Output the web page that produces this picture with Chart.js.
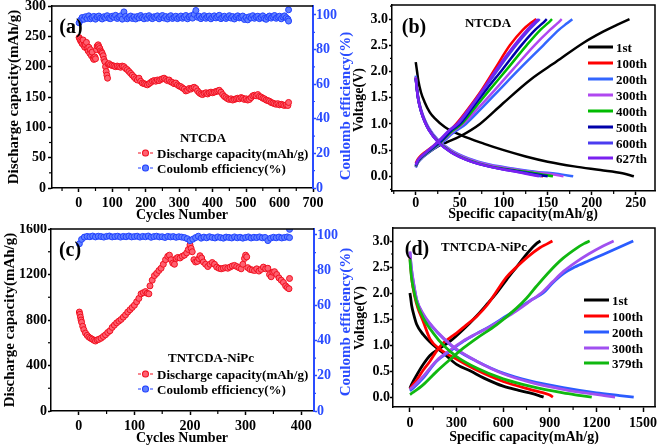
<!DOCTYPE html>
<html>
<head>
<meta charset="utf-8">
<script src="https://cdn.jsdelivr.net/npm/chart.js@4.4.1/dist/chart.umd.min.js"></script>
<style>
body{margin:0;background:#fff;}
#wrap{position:relative;width:661px;height:447px;overflow:hidden;font-family:'Liberation Serif','Times New Roman',serif;font-weight:bold;color:#000;background:#fff}
canvas{position:absolute}
.t{position:absolute;white-space:nowrap;transform:translate(-50%,-50%);line-height:1;z-index:5}
.v{transform:translate(-50%,-50%) rotate(-90deg)}
.lg{position:absolute;white-space:nowrap;transform:translateY(-50%);display:flex;align-items:center;font-size:13px;line-height:1;z-index:5}
.ln{display:inline-block;width:25px;height:3px;margin-right:3px}
.mk{display:inline-flex;align-items:center;width:15px;margin-right:4px}
.mk i{display:inline-block;width:4px;height:1px;background:var(--c)}
.mk b{display:inline-block;width:5px;height:5px;border:1px solid var(--c);background:var(--f);border-radius:50%;margin:0 1px}
</style>
</head>
<body>
<div id="wrap">
<canvas id="ca" width="352" height="224" style="left:0;top:0"></canvas>
<canvas id="cb" width="309" height="224" style="left:352px;top:0"></canvas>
<canvas id="cc" width="352" height="223" style="left:0;top:224px"></canvas>
<canvas id="cd" width="309" height="223" style="left:352px;top:224px"></canvas>

<!-- panel a texts -->
<div class="t v" style="left:13px;top:97px;font-size:15px">Discharge capacity(mAh/g)</div>
<div class="t" style="left:182px;top:215px;font-size:14px">Cycles Number</div>
<div class="t v" style="left:345px;top:106px;font-size:15px;color:#2a4cff">Coulomb efficiency(%)</div>
<div class="t" style="left:71px;top:26px;font-size:20px">(a)</div>
<div class="t" style="left:203px;top:137px;font-size:13px">NTCDA</div>
<div class="lg" style="left:138px;top:153px"><span class="mk" style="--c:#f01020;--f:#ff6070"><i></i><b></b><i></i></span>Discharge capacity(mAh/g)</div>
<div class="lg" style="left:138px;top:168px"><span class="mk" style="--c:#2040ff;--f:#6080ff"><i></i><b></b><i></i></span>Coulomb efficiency(%)</div>

<!-- panel b texts -->
<div class="t v" style="left:359px;top:100px;font-size:14px">Voltage(V)</div>
<div class="t" style="left:523px;top:214px;font-size:14px">Specific capacity(mAh/g)</div>
<div class="t" style="left:414px;top:26px;font-size:20px">(b)</div>
<div class="t" style="left:488px;top:22px;font-size:13px">NTCDA</div>
<div class="lg" style="left:588px;top:47px"><span class="ln" style="background:#000000"></span>1st</div>
<div class="lg" style="left:588px;top:63px"><span class="ln" style="background:#ff0000"></span>100th</div>
<div class="lg" style="left:588px;top:79px"><span class="ln" style="background:#3366ff"></span>200th</div>
<div class="lg" style="left:588px;top:95px"><span class="ln" style="background:#b048f0"></span>300th</div>
<div class="lg" style="left:588px;top:111px"><span class="ln" style="background:#00bb00"></span>400th</div>
<div class="lg" style="left:588px;top:127px"><span class="ln" style="background:#0000aa"></span>500th</div>
<div class="lg" style="left:588px;top:143px"><span class="ln" style="background:#4b3cf0"></span>600th</div>
<div class="lg" style="left:588px;top:158px"><span class="ln" style="background:#7a20f0"></span>627th</div>

<!-- panel c texts -->
<div class="t v" style="left:9px;top:320px;font-size:15px">Discharge capacity(mAh/g)</div>
<div class="t" style="left:182px;top:438px;font-size:14px">Cycles Number</div>
<div class="t v" style="left:345px;top:322px;font-size:15px;color:#2a4cff">Coulomb efficiency(%)</div>
<div class="t" style="left:70px;top:249px;font-size:20px">(c)</div>
<div class="t" style="left:211px;top:357px;font-size:13px">TNTCDA-NiPc</div>
<div class="lg" style="left:138px;top:374px"><span class="mk" style="--c:#f01020;--f:#ff6070"><i></i><b></b><i></i></span>Discharge capacity(mAh/g)</div>
<div class="lg" style="left:138px;top:389px"><span class="mk" style="--c:#2040ff;--f:#6080ff"><i></i><b></b><i></i></span>Coulomb efficiency(%)</div>

<!-- panel d texts -->
<div class="t v" style="left:360px;top:318px;font-size:14px">Voltage(V)</div>
<div class="t" style="left:524px;top:437px;font-size:14px">Specific capacity(mAh/g)</div>
<div class="t" style="left:417px;top:248px;font-size:20px">(d)</div>
<div class="t" style="left:484px;top:246px;font-size:13px">TNTCDA-NiPc</div>
<div class="lg" style="left:584px;top:300px"><span class="ln" style="background:#000000"></span>1st</div>
<div class="lg" style="left:584px;top:316px"><span class="ln" style="background:#ff0000"></span>100th</div>
<div class="lg" style="left:584px;top:332px"><span class="ln" style="background:#2a5cff"></span>200th</div>
<div class="lg" style="left:584px;top:348px"><span class="ln" style="background:#a050f0"></span>300th</div>
<div class="lg" style="left:584px;top:363px"><span class="ln" style="background:#10b810"></span>379th</div>
</div>

<script>
// ---------------- DATA ----------------
// Panel (a) NTCDA cycling
const aCapCycles = [1,3,5,8,10,13,15,18,20,23,25,28,30,33,35,38,40,43,45,48,50,53,55,58,60,63,65,68,70,73,75,78,80,82,84,86,88,90,95,100,105,110,115,120,125,130,135,140,145,150,155,160,165,170,175,180,185,190,195,200,205,210,215,220,225,230,235,240,245,250,255,260,265,270,275,280,285,290,295,300,305,310,315,320,325,330,335,340,345,350,355,360,365,370,375,380,385,390,395,400,405,410,415,420,425,430,435,440,445,450,455,460,465,470,475,480,485,490,495,500,505,510,515,520,525,530,535,540,545,550,555,560,565,570,575,580,585,590,595,600,605,610,615,620,625,627];
const aCap = [248,246,243,241,238,244,235,232,236,240,230,226,232,222,228,218,224,214,212,216,213,228,234,236,233,230,226,224,222,218,212,208,200,192,186,181,204,205,203,202,201,200,201,200,199,201,200,197,195,192,189,186,183,180,178,181,176,173,172,171,170,172,174,176,177,176,178,177,179,180,181,179,177,178,175,174,172,173,170,168,167,165,163,160,161,164,163,165,166,164,160,157,155,154,156,157,155,157,158,157,158,159,160,161,158,154,151,149,147,146,147,145,146,147,148,147,149,148,146,147,145,146,149,152,153,152,154,151,150,148,147,145,144,143,141,140,139,138,139,137,138,137,136,137,136,141];
const aCeCycles = [1,5,10,15,20,25,30,35,40,45,50,55,60,65,70,75,80,85,90,95,100,105,110,115,120,125,130,135,140,145,150,155,160,165,170,175,180,185,190,195,200,205,210,215,220,225,230,235,240,245,250,255,260,265,270,275,280,285,290,295,300,305,310,315,320,325,330,335,340,345,350,355,360,365,370,375,380,385,390,395,400,405,410,415,420,425,430,435,440,445,450,455,460,465,470,475,480,485,490,495,500,505,510,515,520,525,530,535,540,545,550,555,560,565,570,575,580,585,590,595,600,605,610,615,620,625,627,627];
const aCe = [95.5,97.0,98.5,97.5,99.0,98.0,99.5,97.8,98.6,99.2,
  97.6,98.9,99.4,98.2,97.7,99.0,98.4,99.6,98.1,97.9,
  99.3,98.7,99.8,98.0,98.8,99.5,97.6,101.8,99.2,97.8,
  98.6,99.4,98.0,98.9,97.7,99.1,98.3,99.7,98.5,97.8,
  99.2,98.1,99.6,98.4,97.9,99.0,98.6,99.5,97.8,98.8,
  99.7,98.2,99.1,97.7,98.9,99.6,98.0,98.7,99.3,97.9,
  98.6,99.4,98.1,98.8,99.7,97.8,98.9,99.5,98.2,100.4,
  102.6,98.7,99.3,97.9,98.8,99.6,98.1,98.9,99.4,97.8,
  98.7,99.5,98.3,99.0,99.8,97.9,98.6,99.3,98.0,98.8,
  99.6,98.2,99.1,97.7,98.9,99.5,98.3,98.7,99.4,97.4,
  98.5,97.2,99.0,98.3,99.6,98.1,98.9,99.3,97.9,98.6,
  99.5,98.0,97.5,98.8,99.4,98.2,99.0,99.7,98.1,98.8,
  99.3,97.8,98.9,99.5,98.4,97.6,103.0,96.5];

// Panel (c) TNTCDA-NiPc cycling
const cCapCycles = [1,2,3,4,5,7,9,12,15,18,21,24,27,30,33,36,40,44,48,52,56,60,64,68,72,76,80,84,88,92,96,100,104,108,112,116,120,123,126,128,132,136,140,144,148,152,156,160,163,166,169,172,175,178,182,186,190,194,197,200,202,204,207,210,213,216,218,221,224,228,232,236,240,244,248,252,256,260,264,268,272,276,280,284,288,292,295,298,300,302,304,308,312,316,320,324,328,332,336,340,343,346,349,352,356,360,364,368,372,375,378,379];
const cCap = [870,850,825,800,780,745,715,685,665,650,640,632,622,615,625,630,640,655,670,690,705,735,755,775,790,805,825,845,870,890,910,930,960,990,1030,1040,1050,1035,1030,1100,1150,1190,1210,1235,1255,1290,1330,1360,1370,1330,1300,1290,1340,1350,1345,1360,1370,1390,1420,1460,1430,1400,1330,1310,1315,1340,1365,1345,1310,1290,1270,1290,1305,1290,1265,1255,1250,1255,1260,1255,1265,1275,1280,1270,1260,1250,1290,1340,1370,1355,1260,1245,1240,1235,1250,1230,1245,1265,1250,1255,1200,1180,1220,1225,1200,1170,1150,1130,1100,1085,1075,1165];
const cCeCycles = [1,5,10,15,20,25,30,35,40,45,50,55,60,65,70,75,80,85,90,95,100,105,110,115,120,125,130,135,140,145,150,155,160,165,170,175,180,185,190,195,200,205,210,215,220,225,230,235,240,245,250,255,260,265,270,275,280,285,290,295,300,305,310,315,320,325,330,335,340,345,350,355,360,365,370,375,379,379];
const cCe = [95.0,97.5,98.8,99.2,99.0,99.4,98.9,99.3,99.1,98.8,
  99.2,99.4,98.9,99.1,99.3,98.8,99.2,99.0,99.4,98.9,
  99.1,99.3,98.8,99.2,99.0,99.4,98.7,99.1,99.3,98.9,
  99.0,98.6,99.2,98.9,99.1,98.7,99.0,98.8,98.5,97.9,
  96.8,97.6,98.5,99.3,98.2,98.8,98.4,99.0,98.6,98.3,
  98.9,98.5,98.2,98.8,98.6,98.3,98.9,98.4,98.7,98.2,
  98.6,98.9,98.3,98.7,98.5,98.9,98.4,98.6,96.8,98.2,
  98.7,98.4,98.8,98.3,98.6,98.9,103.2,98.5];

// Panel (b) NTCDA charge/discharge profiles [capacity mAh/g, voltage V]
const bLabels = ['1st','100th','200th','300th','400th','500th','600th','627th'];
const bColors = ['#000000','#ff0000','#3366ff','#b048f0','#00bb00','#0000aa','#4b3cf0','#7a20f0'];
const bCharge = [
  [[0,0.18],[3,0.28],[8,0.37],[15,0.46],[25,0.57],[35,0.65],[50,0.76],[73,1.0],[99,1.39],[130,1.84],[160,2.19],[190,2.54],[213,2.76],[230,2.9],[243,3.0]],
  [[0,0.25],[2,0.32],[6,0.4],[12,0.48],[20,0.58],[28,0.7],[37,0.84],[46,1.0],[60,1.3],[75,1.65],[90,2.05],[107,2.5],[122,2.8],[131,2.93],[137,3.0]],
  [[0,0.17],[2,0.25],[6,0.33],[12,0.42],[20,0.52],[30,0.64],[42,0.82],[57,1.0],[75,1.3],[95,1.65],[118,2.05],[145,2.5],[163,2.8],[172,2.92],[178,3.0]],
  [[0,0.18],[2,0.26],[6,0.34],[12,0.43],[20,0.53],[30,0.66],[42,0.85],[54,1.0],[71,1.3],[90,1.65],[111,2.05],[135,2.5],[153,2.8],[161,2.92],[166,3.0]],
  [[0,0.19],[2,0.27],[6,0.35],[12,0.44],[20,0.54],[30,0.68],[41,0.86],[52,1.0],[67,1.3],[84,1.65],[104,2.05],[126,2.5],[142,2.8],[150,2.92],[155,3.0]],
  [[0,0.2],[2,0.28],[6,0.36],[12,0.45],[20,0.55],[30,0.69],[40,0.87],[50,1.0],[64,1.3],[80,1.65],[99,2.05],[120,2.5],[136,2.8],[144,2.92],[149,3.0]],
  [[0,0.21],[2,0.29],[6,0.37],[12,0.46],[20,0.57],[29,0.71],[38,0.87],[48,1.0],[62,1.3],[77,1.65],[94,2.05],[114,2.5],[129,2.8],[136,2.92],[141,3.0]],
  [[0,0.22],[2,0.3],[6,0.38],[12,0.47],[20,0.58],[28,0.71],[38,0.88],[47,1.0],[61,1.3],[76,1.65],[92,2.05],[112,2.5],[127,2.8],[134,2.92],[139,3.0]]
];
const bDischarge = [
  [[0,2.18],[1.5,2.0],[3,1.82],[6,1.6],[10,1.42],[16,1.22],[22,1.1],[33,0.94],[52,0.78],[78,0.62],[100,0.5],[125,0.38],[150,0.28],[180,0.19],[210,0.12],[235,0.06],[248,0.0]],
  [[0,1.9],[1,1.72],[3,1.47],[6,1.26],[10,1.07],[15,0.9],[25,0.68],[40,0.48],[60,0.32],[85,0.2],[110,0.12],[130,0.06],[145,0.0]],
  [[0,1.92],[1,1.74],[3,1.49],[6,1.28],[10,1.09],[15,0.92],[25,0.7],[40,0.5],[60,0.34],[85,0.22],[110,0.15],[140,0.08],[160,0.05],[179,0.0]],
  [[0,1.9],[1,1.73],[3,1.48],[6,1.27],[10,1.08],[15,0.91],[25,0.69],[40,0.49],[60,0.33],[85,0.21],[110,0.14],[135,0.08],[155,0.04],[168,0.0]],
  [[0,1.88],[1,1.71],[3,1.46],[6,1.25],[10,1.06],[15,0.89],[25,0.67],[40,0.47],[60,0.31],[85,0.19],[110,0.12],[135,0.06],[156,0.0]],
  [[0,1.86],[1,1.7],[3,1.45],[6,1.24],[10,1.05],[15,0.88],[25,0.66],[40,0.46],[60,0.3],[85,0.18],[110,0.11],[132,0.05],[150,0.0]],
  [[0,1.87],[1,1.7],[3,1.45],[6,1.24],[10,1.05],[15,0.88],[25,0.66],[40,0.46],[60,0.3],[85,0.18],[110,0.1],[128,0.05],[143,0.0]],
  [[0,1.88],[1,1.7],[3,1.45],[6,1.25],[10,1.05],[15,0.88],[25,0.66],[40,0.46],[60,0.3],[85,0.18],[110,0.1],[125,0.05],[140,0.0]]
];

// Panel (d) TNTCDA-NiPc profiles [capacity mAh/g, voltage V]
const dLabels = ['1st','100th','200th','300th','379th'];
const dColors = ['#000000','#ff0000','#2a5cff','#a050f0','#10b810'];
const dCharge = [
  [[0,0.17],[10,0.24],[43,0.42],[86,0.63],[129,0.8],[193,0.94],[257,1.07],[343,1.3],[429,1.56],[500,1.8],[557,2.0],[620,2.25],[686,2.5],[760,2.78],[814,2.95],[840,3.0]],
  [[0,0.15],[10,0.2],[43,0.33],[86,0.52],[129,0.69],[170,0.88],[214,1.04],[257,1.14],[300,1.23],[360,1.38],[429,1.55],[500,1.78],[557,2.03],[620,2.3],[686,2.5],[760,2.7],[836,2.87],[880,2.94],[917,3.0]],
  [[0,0.12],[20,0.17],[86,0.37],[171,0.69],[257,0.88],[343,1.07],[429,1.22],[514,1.36],[600,1.52],[686,1.68],[771,1.85],[857,2.0],[920,2.2],[990,2.38],[1061,2.5],[1150,2.62],[1243,2.74],[1340,2.87],[1437,3.0]],
  [[0,0.15],[20,0.2],[86,0.4],[171,0.7],[257,0.9],[343,1.08],[429,1.22],[514,1.35],[600,1.5],[686,1.66],[771,1.84],[857,2.03],[920,2.22],[990,2.42],[1071,2.6],[1150,2.75],[1240,2.9],[1311,3.0]],
  [[0,0.05],[20,0.09],[86,0.24],[171,0.49],[257,0.72],[343,0.94],[429,1.13],[557,1.39],[686,1.71],[750,1.9],[814,2.13],[900,2.42],[986,2.67],[1071,2.86],[1120,2.95],[1157,3.0]]
];
const dDischarge = [
  [[0,2.0],[5,1.9],[11,1.76],[25,1.58],[43,1.4],[86,1.2],[150,1.0],[214,0.85],[300,0.63],[390,0.5],[480,0.36],[600,0.21],[700,0.13],[771,0.08],[830,0.03],[860,0.0]],
  [[0,2.7],[5,2.5],[15,2.2],[30,1.95],[50,1.72],[86,1.45],[129,1.12],[193,0.92],[300,0.73],[429,0.52],[600,0.3],[771,0.15],[860,0.08],[900,0.04],[920,0.0]],
  [[0,2.78],[5,2.6],[10,2.45],[21,2.22],[43,1.87],[86,1.58],[150,1.33],[214,1.13],[300,0.91],[429,0.69],[600,0.46],[771,0.31],[986,0.18],[1200,0.08],[1350,0.03],[1440,0.0]],
  [[0,2.8],[5,2.62],[10,2.47],[21,2.24],[43,1.88],[86,1.6],[150,1.34],[214,1.14],[300,0.92],[429,0.69],[600,0.45],[771,0.29],[986,0.15],[1150,0.07],[1250,0.03],[1320,0.0]],
  [[0,2.65],[5,2.45],[10,2.3],[21,2.1],[43,1.82],[86,1.52],[150,1.23],[214,1.0],[300,0.78],[429,0.56],[600,0.35],[771,0.21],[986,0.08],[1100,0.03],[1170,0.0]]
];

// Tick values
const aTicksX = [0,100,200,300,400,500,600,700];
const aMinorX = [-50,50,150,250,350,450,550,650];
const aTicksY = [0,50,100,150,200,250,300];
const aMinorY = [25,75,125,175,225,275];
const aTicksY2 = [0,20,40,60,80,100];
const aMinorY2 = [10,30,50,70,90];
const bTicksX = [0,50,100,150,200,250];
const bMinorX = [-25,25,75,125,175,225];
const bTicksY = [0,0.5,1,1.5,2,2.5,3];
const bMinorY = [-0.25,0.25,0.75,1.25,1.75,2.25,2.75,3.25];
const cTicksX = [0,100,200,300,400];
const cMinorX = [50,150,250,350];
const cTicksY = [0,400,800,1200,1600];
const cMinorY = [200,600,1000,1400];
const cTicksY2 = [0,20,40,60,80,100];
const cMinorY2 = [10,30,50,70,90];
const dTicksX = [0,300,600,900,1200,1500];
const dMinorX = [150,450,750,1050,1350];
const dTicksY = [0,0.5,1,1.5,2,2.5,3];
const dMinorY = [0.25,0.75,1.25,1.75,2.25,2.75];

// ---------------- RENDER ----------------
const SERIF = "'Liberation Serif','Times New Roman',serif";
const BLUE = '#2a4cff';
const RED_B = '#f01020', RED_F = '#ff6070';
const BLUE_B = '#2040ff', BLUE_F = '#6080ff';

const framePlugin = {
  id: 'frame',
  afterDraw(chart, args, opts) {
    const {ctx, chartArea: a} = chart;
    ctx.save();
    ctx.strokeStyle = '#000';
    ctx.lineWidth = 1.5;
    ctx.beginPath();
    ctx.moveTo(a.left, a.top);
    ctx.lineTo(a.right, a.top);
    if (!opts.rightAxis) ctx.lineTo(a.right, a.bottom);
    ctx.stroke();
    (opts.minor || []).forEach(m => {
      const s = chart.scales[m.id];
      ctx.strokeStyle = m.color || '#000';
      ctx.lineWidth = 1.2;
      m.values.forEach(v => {
        const p = s.getPixelForValue(v);
        ctx.beginPath();
        if (s.position === 'bottom') { ctx.moveTo(p, a.bottom); ctx.lineTo(p, a.bottom + m.len); }
        else if (s.position === 'left') { ctx.moveTo(a.left, p); ctx.lineTo(a.left - m.len, p); }
        else { ctx.moveTo(a.right, p); ctx.lineTo(a.right + m.len, p); }
        ctx.stroke();
      });
    });
    ctx.restore();
  }
};

function axis(o) {
  const horiz = o.pos === 'bottom';
  return {
    type: 'linear', position: o.pos, min: o.min, max: o.max,
    afterBuildTicks: s => { s.ticks = o.ticks.map(v => ({value: v})); },
    afterFit: s => { if (horiz) s.height = o.size; else s.width = o.size; },
    grid: { drawOnChartArea: false, drawTicks: true, tickLength: o.tl, tickColor: o.color, tickWidth: 1.5 },
    border: { display: true, color: o.color, width: o.bw || 1.5 },
    ticks: {
      color: o.color, padding: o.pad, autoSkip: false, maxRotation: 0, minRotation: 0,
      font: { family: SERIF, weight: 'bold', size: 14, lineHeight: horiz ? 1.2 : 0.4 },
      callback: o.fmt || (v => String(v))
    }
  };
}

function pts(xs, ys) { return xs.map((x, i) => ({x: x, y: ys[i]})); }
function pairPts(arr) { return arr.map(p => ({x: p[0], y: p[1]})); }

function cycleChart(id, padTop, capX, capY, ceX, ceY, sc, minor) {
  new Chart(document.getElementById(id), {
    type: 'scatter',
    data: { datasets: [
      { data: pts(ceX, ceY), yAxisID: 'y2', pointRadius: 3, pointBorderWidth: 1,
        pointBackgroundColor: BLUE_F, pointBorderColor: BLUE_B },
      { data: pts(capX, capY), yAxisID: 'y', pointRadius: 3, pointBorderWidth: 1,
        pointBackgroundColor: RED_F, pointBorderColor: RED_B }
    ]},
    options: {
      responsive: false, animation: false, events: [],
      layout: { padding: { top: padTop, left: 0, right: 0, bottom: 0 } },
      plugins: { legend: { display: false }, tooltip: { enabled: false },
        frame: { rightAxis: true, minor: minor } },
      scales: sc
    },
    plugins: [framePlugin]
  });
}

function profileChart(id, padTop, labels, colors, charge, discharge, lw, sc, minor) {
  const ds = [];
  const n = labels.length;
  labels.forEach((lab, i) => {
    [charge[i], discharge[i]].forEach(curve => {
      ds.push({ label: lab, data: pairPts(curve), showLine: true, pointRadius: 0,
        borderColor: colors[i], borderWidth: lw, cubicInterpolationMode: 'monotone',
        order: n - i });
    });
  });
  new Chart(document.getElementById(id), {
    type: 'scatter',
    data: { datasets: ds },
    options: {
      responsive: false, animation: false, events: [],
      layout: { padding: { top: padTop, left: 0, right: 6, bottom: 0 } },
      plugins: { legend: { display: false }, tooltip: { enabled: false },
        frame: { rightAxis: false, minor: minor } },
      scales: sc
    },
    plugins: [framePlugin]
  });
}

const f1 = v => v.toFixed(1);

cycleChart('ca', 6, aCapCycles, aCap, aCeCycles, aCe, {
  x: axis({pos:'bottom', min:-80, max:700, ticks:aTicksX, size:36, tl:4, pad:3, color:'#000'}),
  y: axis({pos:'left', min:0, max:300, ticks:aTicksY, size:52, tl:4, pad:2, color:'#000'}),
  y2: axis({pos:'right', min:0, max:105.2, ticks:aTicksY2, size:39, tl:3, pad:0, color:BLUE, bw:2})
}, [{id:'x', values:aMinorX, len:3}, {id:'y', values:aMinorY, len:3}, {id:'y2', values:aMinorY2, len:2, color:BLUE}]);

profileChart('cb', 5, bLabels, bColors, bCharge, bDischarge, 2.5, {
  x: axis({pos:'bottom', min:-27, max:272, ticks:bTicksX, size:33, tl:4, pad:0, color:'#000'}),
  y: axis({pos:'left', min:-0.28, max:3.27, ticks:bTicksY, size:40, tl:3, pad:1, color:'#000', fmt:f1})
}, [{id:'x', values:bMinorX, len:3}, {id:'y', values:bMinorY, len:2}]);

cycleChart('cc', 4, cCapCycles, cCap, cCeCycles, cCe, {
  x: axis({pos:'bottom', min:-50, max:423, ticks:cTicksX, size:36, tl:4, pad:3, color:'#000'}),
  y: axis({pos:'left', min:0, max:1600, ticks:cTicksY, size:51, tl:3, pad:1, color:'#000'}),
  y2: axis({pos:'right', min:0, max:103.4, ticks:cTicksY2, size:38, tl:3, pad:0, color:BLUE, bw:2})
}, [{id:'x', values:cMinorX, len:3}, {id:'y', values:cMinorY, len:3}, {id:'y2', values:cMinorY2, len:2, color:BLUE}]);

profileChart('cd', 4, dLabels, dColors, dCharge, dDischarge, 2.8, {
  x: axis({pos:'bottom', min:-109, max:1577, ticks:dTicksX, size:40, tl:5, pad:3, color:'#000'}),
  y: axis({pos:'left', min:-0.19, max:3.25, ticks:dTicksY, size:41, tl:3, pad:0, color:'#000', fmt:f1})
}, [{id:'x', values:dMinorX, len:3}, {id:'y', values:dMinorY, len:2}]);
</script>
</body>
</html>
